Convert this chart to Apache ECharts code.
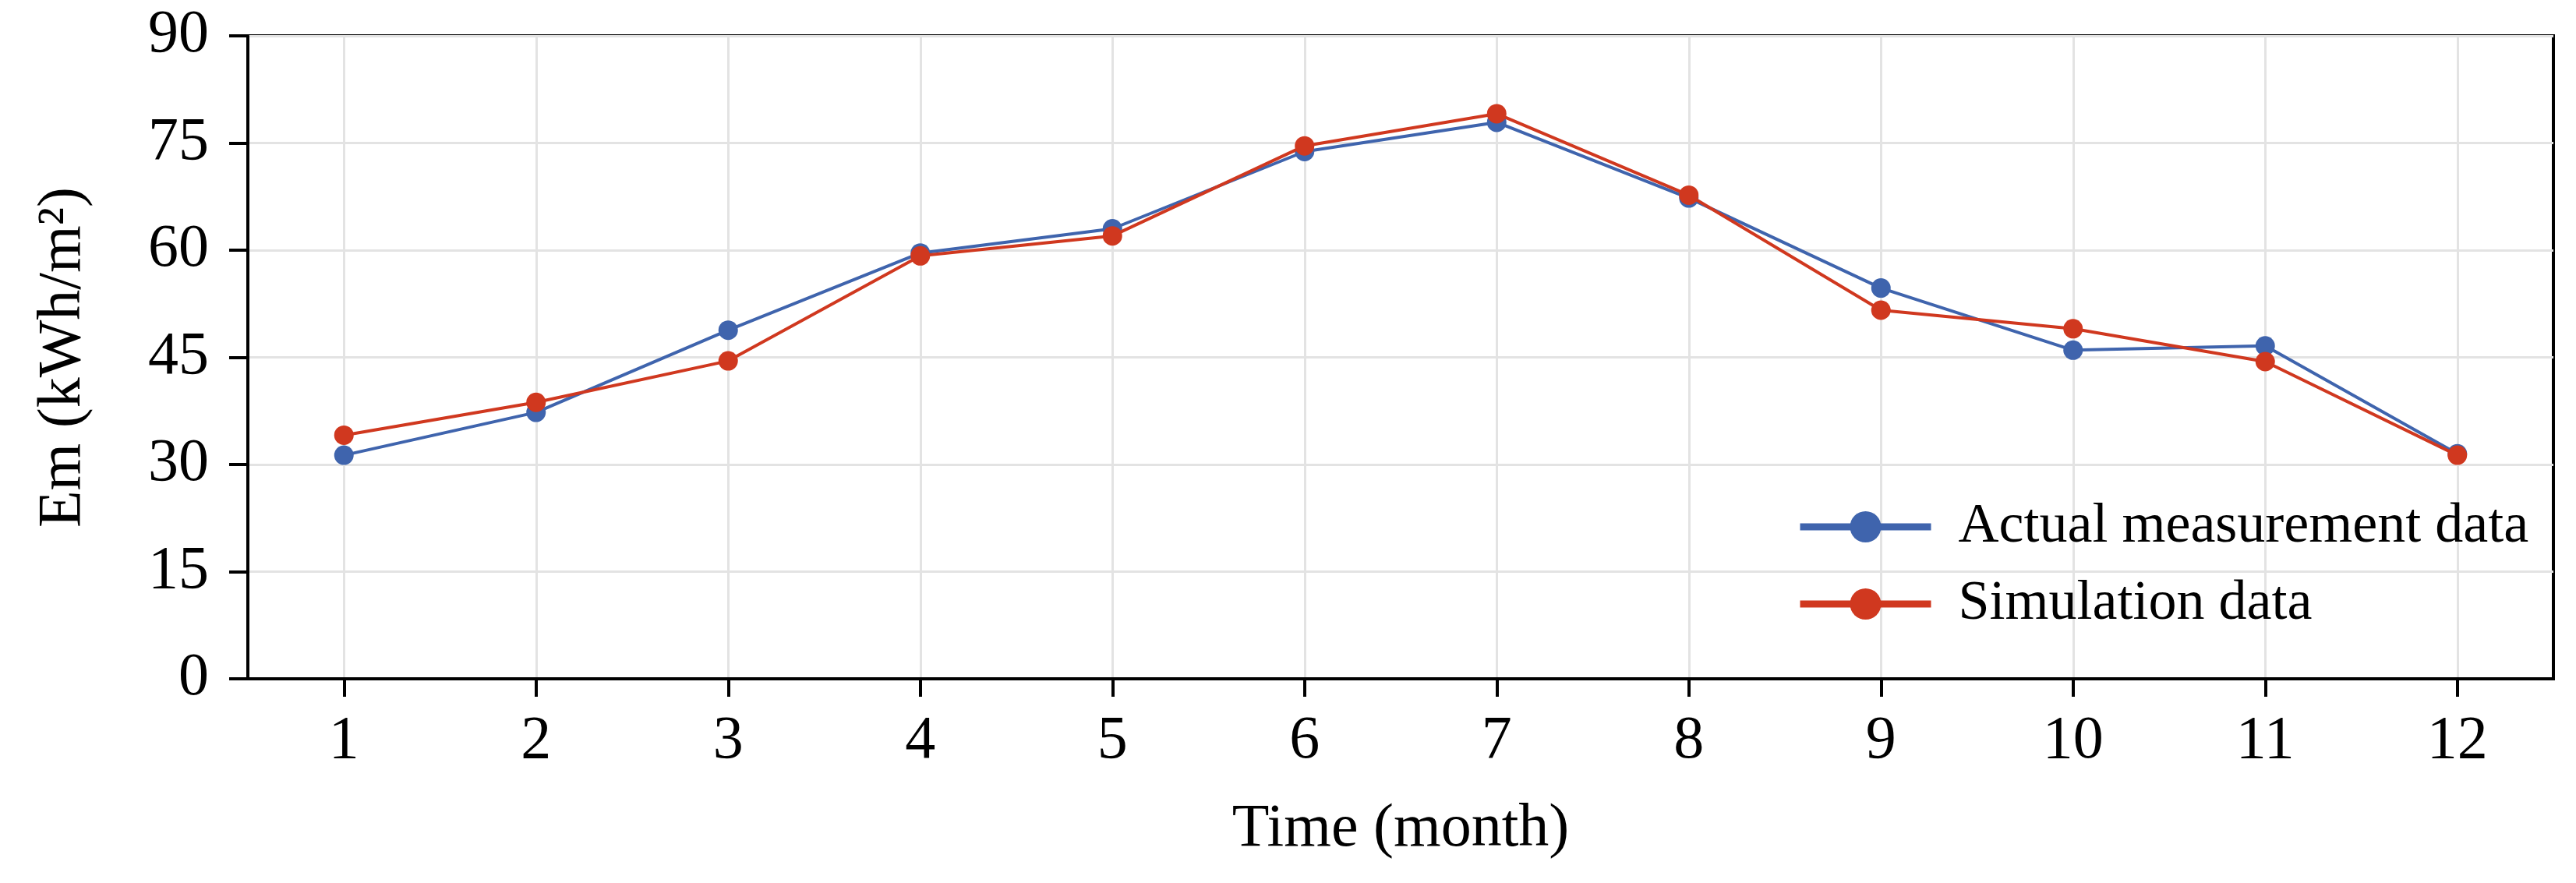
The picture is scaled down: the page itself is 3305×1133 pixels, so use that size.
<!DOCTYPE html>
<html>
<head>
<meta charset="utf-8">
<script src="https://cdn.jsdelivr.net/npm/echarts@6/dist/echarts.min.js"></script>
<style>
html,body{margin:0;padding:0;background:#fff;}
#chart{width:3305px;height:1133px;}
</style>
</head>
<body>
<div id="chart"></div>
<script>
const months = ['1','2','3','4','5','6','7','8','9','10','11','12'];
const actualData = [31.3, 37.3, 48.8, 59.6, 63.0, 73.8, 77.9, 67.3, 54.7, 46.0, 46.6, 31.5];
const simulationData = [34.1, 38.7, 44.5, 59.2, 62.0, 74.6, 79.1, 67.7, 51.6, 49.0, 44.4, 31.3];
const yTicks = { min: 0, max: 90, interval: 15 };
const seriesNames = ['Actual measurement data', 'Simulation data'];
const xTitle = 'Time (month)';
const yTitle = 'Em (kWh/m²)';

const FONT = '"Liberation Serif", "Times New Roman", "DejaVu Serif", serif';
const BLUE = '#3F64AD';
const RED = '#D0381F';

const chart = echarts.init(document.getElementById('chart'), null, { renderer: 'canvas' });
chart.setOption({
  backgroundColor: '#ffffff',
  animation: false,
  grid: {
    left: 318, right: 29, top: 46, bottom: 262,
    show: true, borderColor: '#000', borderWidth: 4, backgroundColor: 'transparent'
  },
  legend: {
    orient: 'vertical',
    left: 2300,
    top: 635,
    itemWidth: 168,
    itemHeight: 50,
    itemGap: 27,
    lineStyle: { width: 9 },
    textStyle: { fontFamily: FONT, fontSize: 72, color: '#000', padding: [0, 0, 0, 30] },
    data: seriesNames
  },
  xAxis: {
    type: 'category',
    data: months,
    boundaryGap: true,
    name: xTitle,
    nameLocation: 'middle',
    nameGap: 155,
    nameTextStyle: { fontFamily: FONT, fontSize: 78, color: '#000' },
    axisLine: { show: true, lineStyle: { color: '#000', width: 4 } },
    axisTick: { show: true, alignWithLabel: true, inside: false, length: 23, lineStyle: { color: '#000', width: 4 } },
    axisLabel: { fontFamily: FONT, fontSize: 78, color: '#000', margin: 42 },
    splitLine: { show: true, alignWithLabel: true, lineStyle: { color: '#e3e3e3', width: 3 } }
  },
  yAxis: {
    type: 'value',
    min: yTicks.min,
    max: yTicks.max,
    interval: yTicks.interval,
    name: yTitle,
    nameLocation: 'middle',
    nameGap: 197,
    nameTextStyle: { fontFamily: FONT, fontSize: 78, color: '#000' },
    axisLine: { show: true, lineStyle: { color: '#000', width: 4 } },
    axisTick: { show: true, inside: false, length: 24, lineStyle: { color: '#000', width: 4 } },
    axisLabel: { fontFamily: FONT, fontSize: 78, color: '#000', margin: 50 },
    splitLine: { show: true, lineStyle: { color: '#e3e3e3', width: 3 } }
  },
  series: [
    {
      name: seriesNames[0],
      type: 'line',
      data: actualData,
      symbol: 'circle',
      symbolSize: 25,
      lineStyle: { color: BLUE, width: 4 },
      itemStyle: { color: BLUE },
      z: 3
    },
    {
      name: seriesNames[1],
      type: 'line',
      data: simulationData,
      symbol: 'circle',
      symbolSize: 25,
      lineStyle: { color: RED, width: 4 },
      itemStyle: { color: RED },
      z: 4
    }
  ]
});
</script>
</body>
</html>
